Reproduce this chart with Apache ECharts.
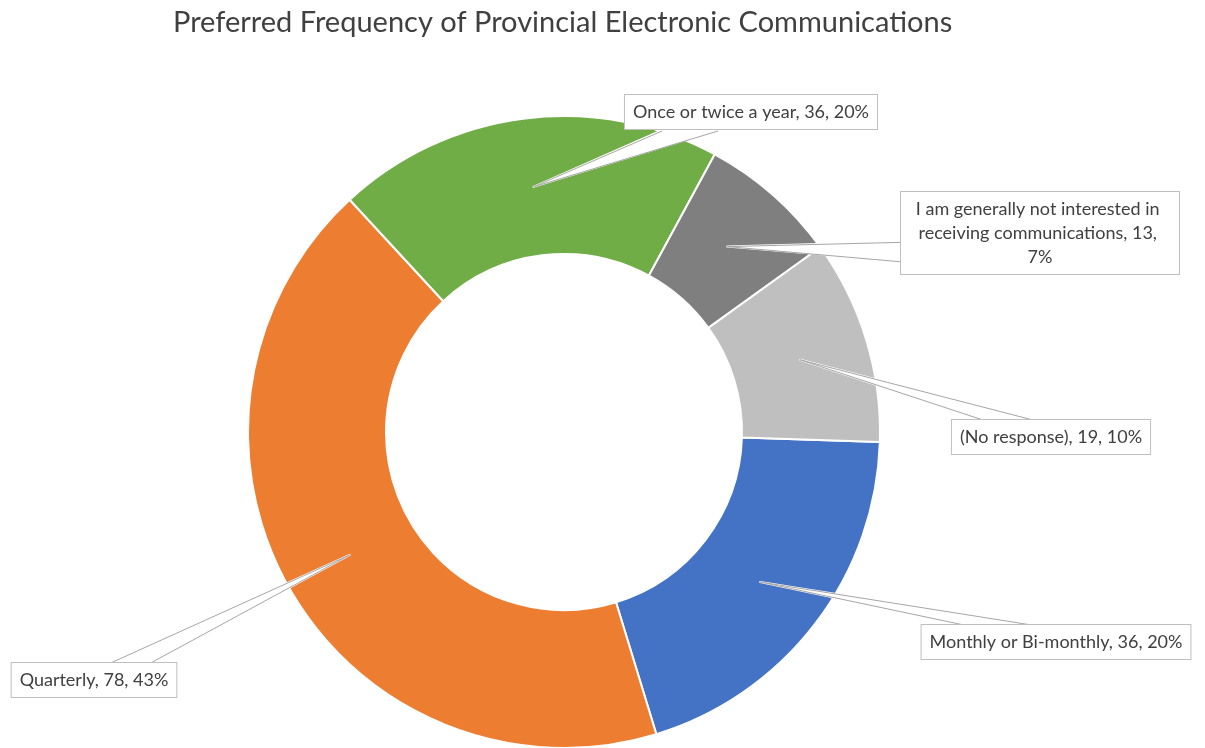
<!DOCTYPE html>
<html>
<head>
<meta charset="utf-8">
<script src="https://cdn.jsdelivr.net/npm/echarts@6/dist/echarts.min.js"></script>
<style>
html,body{margin:0;padding:0;background:#fff;}
#main{width:1205px;height:748px;}
</style>
</head>
<body>
<div id="main"></div>
<script>
// ---- data ----
const titleText = 'Preferred Frequency of Provincial Electronic Communications';
const categories = ['Monthly or Bi-monthly', 'Quarterly', 'Once or twice a year', 'I am generally not interested in receiving communications', '(No response)'];
const counts = [36, 78, 36, 13, 19];

// ---- style / layout ----
const colors = ['#4472C4', '#ED7D31', '#70AD47', '#7F7F7F', '#BFBFBF'];
const CENTER = [564, 432];
const R0 = 178, R1 = 316;
const START = -1.8;
// label box: centre x, top y, side of the box the pointer leaves from, fractions along that side
const labelBoxes = [
  { cx: 1056, top: 625, side: 'top', f: [0.16, 0.41] },
  { cx: 94, top: 663, side: 'top', f: [0.60, 0.84] },
  { cx: 751, top: 95, side: 'bottom', f: [0.15, 0.37] },
  { cx: 1040, top: 192, side: 'left', f: [0.60, 0.83] },
  { cx: 1051, top: 420, side: 'top', f: [0.16, 0.41] }
];
const FONT = 'Lato, "Noto Sans", sans-serif';

const chart = echarts.init(document.getElementById('main'));

const ringData = categories.map((name, i) => ({ name: name, value: counts[i], itemStyle: { color: colors[i] } }));
const labelData = categories.map((name, i) => {
  const item = { name: name, value: counts[i] };
  if (i === 3) item.label = { width: 262, overflow: 'break' };
  return item;
});

function basePoint(rect, b, t) {
  if (b.side === 'top') return [rect.x + rect.width * t, rect.y];
  if (b.side === 'bottom') return [rect.x + rect.width * t, rect.y + rect.height];
  if (b.side === 'left') return [rect.x, rect.y + rect.height * t];
  return [rect.x + rect.width, rect.y + rect.height * t];
}

// callout pointer: outline (3 points) or a dense fan used as white fill
function makeLayout(fill) {
  return function (p) {
    const b = labelBoxes[p.dataIndex];
    const w = p.labelRect.width, h = p.labelRect.height;
    const rect = { x: b.cx - w / 2, y: b.top, width: w, height: h };
    const s = p.labelLinePoints[0];
    const dx = s[0] - CENTER[0], dy = s[1] - CENTER[1];
    const len = Math.sqrt(dx * dx + dy * dy) || 1;
    const rm = (R0 + R1) / 2;
    const tip = [CENTER[0] + dx / len * rm, CENTER[1] + dy / len * rm];
    let pts;
    if (fill) {
      pts = [];
      const n = 40;
      for (let k = 0; k <= n; k++) {
        const t = b.f[0] + (b.f[1] - b.f[0]) * k / n;
        pts.push(tip, basePoint(rect, b, t));
      }
    } else {
      pts = [basePoint(rect, b, b.f[0]), tip, basePoint(rect, b, b.f[1])];
    }
    return { x: b.cx, y: b.top, align: 'center', verticalAlign: 'top', labelLinePoints: pts };
  };
}

const labelBase = {
  show: true,
  position: 'outside',
  fontFamily: FONT,
  fontSize: 18,
  lineHeight: 24,
  padding: [5, 8],
  align: 'center',
  borderWidth: 1,
  formatter: function (p) {
    return p.name + ', ' + p.value + ', ' + Math.round(p.percent) + '%';
  }
};

const option = {
  backgroundColor: '#ffffff',
  animation: false,
  title: {
    text: titleText,
    left: 168,
    top: 3,
    textStyle: { fontFamily: FONT, fontSize: 29, fontWeight: 'normal', color: '#404040' }
  },
  series: [{
    // the coloured ring
    type: 'pie',
    z: 2,
    center: CENTER,
    radius: [R0, R1],
    startAngle: START,
    clockwise: true,
    silent: true,
    label: { show: false },
    labelLine: { show: false },
    itemStyle: { borderColor: '#ffffff', borderWidth: 2 },
    data: ringData
  }, {
    // white fill of the callout pointers
    type: 'pie',
    z: 4,
    center: CENTER,
    radius: [R0, R1],
    startAngle: START,
    clockwise: true,
    silent: true,
    avoidLabelOverlap: false,
    itemStyle: { color: 'rgba(0,0,0,0)', borderWidth: 0 },
    label: Object.assign({}, labelBase, { color: 'rgba(0,0,0,0)', borderColor: 'rgba(0,0,0,0)' }),
    labelLine: {
      show: true,
      showAbove: true,
      smooth: false,
      lineStyle: { color: '#ffffff', width: 2, join: 'round', cap: 'round' }
    },
    labelLayout: makeLayout(true),
    data: labelData
  }, {
    // callout boxes, text and pointer outlines
    type: 'pie',
    z: 5,
    center: CENTER,
    radius: [R0, R1],
    startAngle: START,
    clockwise: true,
    silent: true,
    avoidLabelOverlap: false,
    itemStyle: { color: 'rgba(0,0,0,0)', borderWidth: 0 },
    label: Object.assign({}, labelBase, { color: '#404040', backgroundColor: '#ffffff', borderColor: '#BFBFBF' }),
    labelLine: {
      show: true,
      showAbove: true,
      smooth: false,
      lineStyle: { color: '#A6A6A6', width: 1 }
    },
    labelLayout: makeLayout(false),
    data: labelData
  }]
};

chart.setOption(option);
</script>
</body>
</html>
